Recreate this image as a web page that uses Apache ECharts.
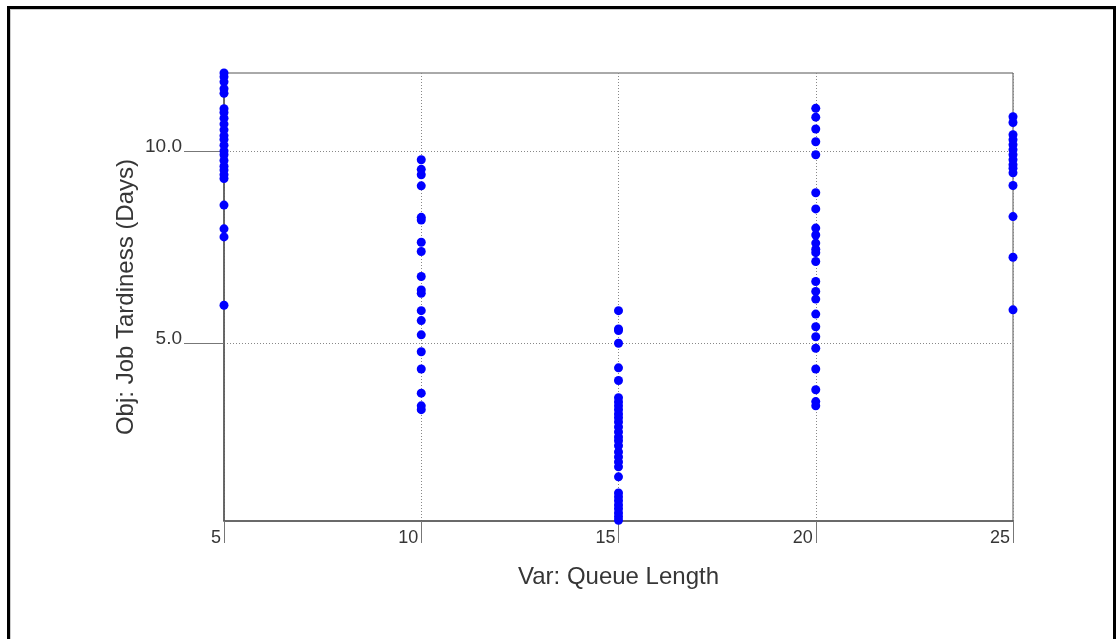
<!DOCTYPE html>
<html>
<head>
<meta charset="utf-8">
<script src="https://cdn.jsdelivr.net/npm/echarts@6/dist/echarts.min.js"></script>
<style>
html,body{margin:0;padding:0;background:#fff;overflow:hidden;}
#frame{position:absolute;left:7px;top:6px;width:1103px;height:700px;border:3px solid #000;box-shadow:inset 1px 1px 0 #ccc;}
#chart{position:absolute;left:0;top:0;width:1118px;height:639px;}
</style>
</head>
<body>
<div id="frame"></div>
<div id="chart"></div>
<script>
// Tardiness values (days) for each queue length
const queueLengths = [5, 10, 15, 20, 25];
const tard5 = [12.03, 11.93, 11.8, 11.62, 11.5, 11.1, 11.0, 10.85, 10.7, 10.55, 10.4, 10.3, 10.15, 10.0, 9.9, 9.75, 9.6, 9.5, 9.38, 9.28, 8.59, 7.97, 7.76, 5.98];
const tard10 = [9.77, 9.52, 9.38, 9.09, 8.27, 8.2, 7.62, 7.38, 6.73, 6.38, 6.29, 5.84, 5.58, 5.21, 4.77, 4.32, 3.69, 3.36, 3.26];
const tard15 = [5.84, 5.36, 5.32, 4.99, 4.35, 4.02, 3.57, 3.46, 3.36, 3.26, 3.15, 3.05, 2.94, 2.81, 2.68, 2.55, 2.45, 2.32, 2.16, 2.03, 1.9, 1.77, 1.51, 1.09, 0.99, 0.89, 0.78, 0.68, 0.57, 0.47, 0.38];
const tard20 = [11.11, 10.88, 10.57, 10.24, 9.9, 8.91, 8.49, 7.99, 7.81, 7.6, 7.44, 7.35, 7.12, 6.6, 6.34, 6.14, 5.75, 5.42, 5.16, 4.86, 4.32, 3.78, 3.47, 3.36];
const tard25 = [10.89, 10.74, 10.42, 10.29, 10.16, 10.03, 9.9, 9.77, 9.64, 9.55, 9.43, 9.1, 8.29, 7.23, 5.86];
const yTicks = [5, 10];
const xTicks = [5, 10, 15, 20, 25];

const columns = [tard5, tard10, tard15, tard20, tard25];
const points = [];
columns.forEach((arr, i) => arr.forEach(v => points.push([queueLengths[i], v])));

const chart = echarts.init(document.getElementById('chart'), null, {renderer: 'canvas'});
const textColor = '#363636';
const ff = 'Liberation Sans, Arial, sans-serif';
chart.setOption({
  animation: false,
  backgroundColor: 'transparent',
  grid: {left: 224, right: 105, top: 73, bottom: 118, show: true, borderColor: '#555', borderWidth: 1, backgroundColor: 'transparent'},
  xAxis: {
    type: 'value', min: 5, max: 25, interval: 5,
    name: 'Var: Queue Length', nameLocation: 'middle', nameGap: 44, nameMoveOverlap: false,
    nameTextStyle: {color: textColor, fontSize: 24, fontFamily: ff},
    axisLine: {show: true, lineStyle: {color: '#555', width: 1.5}},
    axisTick: {show: true, length: 22, inside: false, lineStyle: {color: '#777', width: 1}},
    axisLabel: {color: textColor, fontSize: 18, fontFamily: ff, margin: 8, align: 'right', verticalAlign: 'top', padding: [0, 3, 0, 0]},
    splitLine: {show: true, lineStyle: {color: '#888', type: [1, 2], width: 1}}
  },
  yAxis: {
    type: 'value', min: 0.36, max: 12.03,
    name: 'Obj: Job Tardiness (Days)', nameLocation: 'middle', nameGap: 86, nameRotate: 90, nameMoveOverlap: false,
    nameTextStyle: {color: textColor, fontSize: 24, fontFamily: ff},
    axisLine: {show: true, lineStyle: {color: '#555', width: 1.5}},
    axisTick: {show: true, length: 40, customValues: yTicks, lineStyle: {color: '#777', width: 1}},
    axisLabel: {color: textColor, fontSize: 19, fontFamily: ff, margin: 42, customValues: yTicks,
      verticalAlign: 'bottom', lineHeight: 9, formatter: v => v.toFixed(1)},
    splitLine: {show: true, lineStyle: {color: '#888', type: [1, 2], width: 1}}
  },
  series: [{
    type: 'scatter',
    data: points,
    symbol: 'circle',
    symbolSize: 9,
    itemStyle: {color: '#0000ff', opacity: 1},
    clip: false
  }]
});
</script>
</body>
</html>
